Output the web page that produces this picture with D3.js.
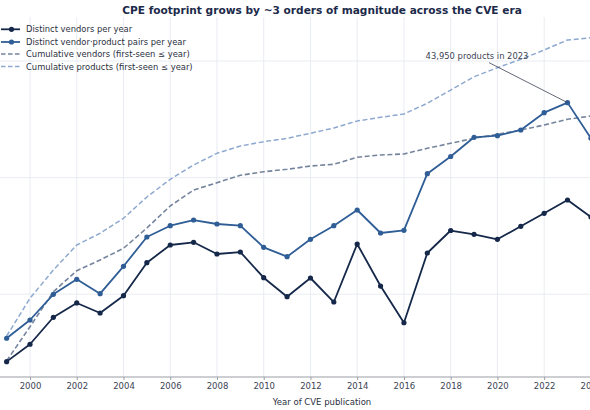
<!DOCTYPE html>
<html><head><meta charset="utf-8">
<script src="https://cdn.jsdelivr.net/npm/d3@7"></script>
<style>
html,body{margin:0;padding:0;background:#fff;overflow:hidden}
svg{display:block;font-family:"DejaVu Sans",sans-serif}
</style></head>
<body>
<svg id="chart" width="590" height="410"></svg>
<script>
const years = d3.range(1999, 2025);
const vendorsPerYear = [264,372,634,841,690,971,1862,2642,2788,2212,2300,1385,952,1377,857,2695,1175,569,2255,3517,3264,2957,3822,4940,6425,4590];
const pairsPerYear = [419,601,998,1342,1010,1735,3094,3869,4327,3999,3869,2524,2098,2957,3869,5274,3349,3532,10800,15170,22160,22870,25600,36030,43950,21730];
const cumVendors = [268,526,1050,1591,1965,2475,3697,5707,7832,9043,10460,11230,11780,12570,13010,14930,15630,15940,17840,19690,21730,23510,25600,28250,31620,33750];
const cumProducts = [438,922,1613,2642,3330,4477,6816,9670,12830,16160,18660,20320,21730,23990,26630,30580,32890,35120,43370,56370,73300,87610,103400,124200,151400,158400];
const xTicks = d3.range(2000, 2025, 2);
const yGrid = [1e3, 1e4, 1e5];
const seriesNames = ["Distinct vendors per year","Distinct vendor·product pairs per year","Cumulative vendors (first-seen ≤ year)","Cumulative products (first-seen ≤ year)"];
const title = "CPE footprint grows by ~3 orders of magnitude across the CVE era";
const xLabel = "Year of CVE publication";
const annoYear = 2023, annoValue = 43950;
const annoText = "43,950 products in 2023";

const svg = d3.select("#chart");
const plotTop = 17, plotBottom = 377;
const x = d3.scaleLinear().domain([2000, 2024]).range([30, 590.9]);
const y = d3.scaleLog().domain([100, 100000]).range([410.8, 61]);

// grid
const g = svg.append("g");
g.selectAll("line.vg").data(xTicks).join("line")
  .attr("x1", d => x(d)).attr("x2", d => x(d))
  .attr("y1", plotTop).attr("y2", plotBottom)
  .attr("stroke", "#e6eaf1").attr("stroke-width", 0.9);
g.selectAll("line.hg").data(yGrid).join("line")
  .attr("x1", 0).attr("x2", 590)
  .attr("y1", d => y(d)).attr("y2", d => y(d))
  .attr("stroke", "#e6eaf1").attr("stroke-width", 0.9);

// axis
const ax = svg.append("g").attr("transform", `translate(0,${plotBottom})`)
  .call(d3.axisBottom(x).tickValues(xTicks).tickFormat(d3.format("d")).tickSize(3).tickPadding(3));
ax.select(".domain").attr("stroke", "#9a9ea6").attr("stroke-width", 1.1).attr("d", "M-10,0H600");
ax.selectAll(".tick line").attr("stroke", "#9a9ea6");
ax.selectAll(".tick text").attr("fill", "#3c4354").style("font-size", "8.5px").style("font-family", "DejaVu Sans");

svg.append("text").attr("x", 322).attr("y", 404.5).attr("text-anchor", "middle")
  .attr("fill", "#2a3040").style("font-size", "8.5px").text(xLabel);
svg.append("text").attr("x", 322).attr("y", 14).attr("text-anchor", "middle")
  .attr("fill", "#1c2a4a").style("font-size", "10.6px").style("font-weight", "bold").text(title);

const defs = svg.append("defs");
defs.append("clipPath").attr("id", "clip").append("rect")
  .attr("x", 0).attr("y", plotTop).attr("width", 590).attr("height", plotBottom - plotTop);

const styles = [
  {data: vendorsPerYear, color: "#15284a", width: 1.8, dash: null, marker: true},
  {data: pairsPerYear, color: "#2f5d96", width: 1.8, dash: null, marker: true},
  {data: cumVendors, color: "#75849d", width: 1.6, dash: "5,2.6", marker: false},
  {data: cumProducts, color: "#8ea9cf", width: 1.5, dash: "5,2.6", marker: false}
];
const line = d3.line().x((d, i) => x(years[i])).y(d => y(d));
const plot = svg.append("g").attr("clip-path", "url(#clip)");
[3, 2, 0, 1].forEach(k => {
  const s = styles[k];
  plot.append("path").datum(s.data).attr("d", line)
    .attr("fill", "none").attr("stroke", s.color).attr("stroke-width", s.width)
    .attr("stroke-dasharray", s.dash).attr("stroke-linejoin", "round");
  if (s.marker) {
    plot.selectAll(null).data(s.data).join("circle")
      .attr("cx", (d, i) => x(years[i])).attr("cy", d => y(d)).attr("r", 2.6)
      .attr("fill", s.color);
  }
});

// annotation
const ax0 = x(annoYear), ay0 = y(annoValue);
svg.append("line").attr("x1", ax0 - 78.5).attr("y1", ay0 - 40).attr("x2", ax0).attr("y2", ay0)
  .attr("stroke", "#3c4354").attr("stroke-width", 0.8);
svg.append("text").attr("x", ax0 - 90.5).attr("y", ay0 - 44).attr("text-anchor", "middle")
  .attr("fill", "#3c4354").style("font-size", "8.4px").text(annoText);

// legend
const lg = svg.append("g");
const ly = [29.3, 42, 54, 66.5];
styles.forEach((s, i) => {
  lg.append("line").attr("x1", 1).attr("x2", 20).attr("y1", ly[i]).attr("y2", ly[i])
    .attr("stroke", s.color).attr("stroke-width", s.width)
    .attr("stroke-dasharray", s.dash ? "4.5,2.5" : null);
  if (s.marker) lg.append("circle").attr("cx", 11.5).attr("cy", ly[i]).attr("r", 2.6).attr("fill", s.color);
  lg.append("text").attr("x", 26).attr("y", ly[i] + 3).attr("fill", "#2a3040")
    .style("font-size", "8.4px").text(seriesNames[i]);
});
</script>
</body></html>
